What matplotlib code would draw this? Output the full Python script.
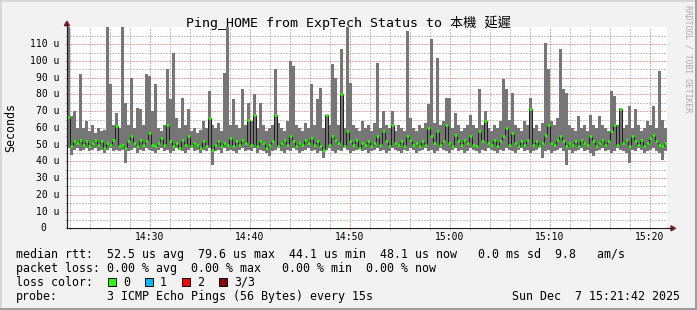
import numpy as np
import matplotlib
matplotlib.use("Agg")
import matplotlib.pyplot as plt
from matplotlib.transforms import blended_transform_factory
from matplotlib.patches import Rectangle, Polygon
from matplotlib.lines import Line2D

W, H = 697, 310
MONO = "DejaVu Sans Mono"

title = "Ping_HOME from ExpTech Status to 本機 延遲"

# time in minutes after 14:00, first column at 14:21:42, 18 s per column
t_start = 21.7
t_step = 0.3

# smoke top (max of 3 pings), in microseconds
hi = [121, 67, 70, 60, 92, 60, 64, 58, 62, 57,
      60, 58, 59, 121, 86, 62, 69, 60, 121, 75,
      62, 90, 60, 72, 71, 62, 92, 91, 70, 86,
      60, 58, 62, 95, 77, 105, 66, 60, 78, 62,
      71, 58, 60, 57, 59, 64, 60, 82, 62, 60,
      63, 58, 93, 121, 62, 77, 62, 60, 83, 62,
      75, 64, 80, 60, 75, 62, 58, 60, 62, 95,
      63, 60, 58, 64, 100, 97, 62, 60, 58, 63,
      60, 86, 62, 77, 84, 60, 68, 62, 98, 90,
      62, 107, 60, 121, 87, 62, 60, 58, 64, 60,
      62, 58, 63, 99, 60, 70, 62, 60, 70, 58,
      62, 60, 58, 118, 66, 60, 58, 62, 60, 63,
      74, 113, 63, 102, 62, 64, 78, 78, 60, 69,
      62, 58, 60, 62, 68, 62, 60, 83, 62, 70,
      60, 58, 62, 60, 64, 89, 83, 65, 81, 62,
      60, 58, 64, 62, 78, 60, 62, 58, 63, 111,
      95, 64, 62, 66, 107, 83, 81, 62, 60, 58,
      67, 60, 62, 58, 68, 62, 60, 67, 62, 60,
      58, 82, 79, 62, 72, 60, 62, 73, 60, 71,
      62, 58, 60, 64, 62, 73, 60, 94, 65, 60]

# smoke bottom (min of 3 pings)
lo = [48, 44, 47, 48, 46, 47, 48, 46, 47, 48,
      46, 47, 45, 47, 48, 46, 47, 46, 47, 39,
      46, 47, 48, 45, 47, 46, 48, 47, 46, 45,
      47, 48, 46, 47, 45, 46, 48, 47, 46, 45,
      47, 48, 46, 47, 45, 47, 46, 48, 38, 46,
      47, 45, 48, 46, 47, 46, 45, 47, 48, 46,
      47, 46, 48, 45, 47, 46, 45, 43, 46, 47,
      48, 46, 45, 47, 46, 48, 47, 45, 46, 47,
      48, 46, 47, 45, 46, 42, 47, 48, 46, 45,
      47, 46, 48, 47, 45, 46, 47, 48, 46, 47,
      45, 46, 47, 48, 46, 47, 45, 46, 48, 47,
      46, 45, 47, 46, 48, 47, 45, 46, 47, 48,
      46, 47, 45, 46, 48, 47, 46, 45, 47, 48,
      46, 47, 45, 46, 48, 47, 46, 45, 47, 46,
      48, 47, 46, 45, 47, 46, 48, 47, 46, 45,
      47, 48, 46, 47, 45, 46, 47, 48, 42, 46,
      47, 45, 46, 47, 48, 46, 38, 47, 45, 46,
      47, 48, 46, 47, 45, 43, 46, 47, 48, 46,
      47, 45, 46, 48, 47, 46, 45, 39, 47, 46,
      48, 47, 45, 46, 47, 48, 46, 45, 41, 46]

# median rtt
med = [66.5, 49, 52, 51, 53, 50, 52, 49, 51, 53,
       50, 52, 48, 51, 50, 53, 61, 49, 50, 48,
       52, 55, 51, 49, 53, 50, 52, 57, 50, 49,
       51, 54, 50, 62, 52, 49, 51, 48, 53, 50,
       55, 49, 51, 50, 48, 52, 49, 66, 47, 50,
       52, 49, 51, 50, 54, 49, 52, 50, 53, 51,
       65, 50, 68, 49, 52, 51, 48, 50, 52, 68,
       49, 51, 53, 50, 55, 52, 49, 51, 50, 53,
       51, 54, 50, 52, 49, 47, 68, 50, 55, 53,
       51, 80, 49, 58, 52, 50, 53, 48, 51, 50,
       52, 49, 51, 55, 50, 58, 52, 49, 62, 51,
       50, 52, 49, 55, 53, 50, 51, 49, 52, 50,
       60, 55, 51, 58, 50, 52, 62, 51, 49, 56,
       52, 50, 53, 51, 55, 50, 49, 58, 52, 64,
       51, 50, 53, 49, 52, 55, 60, 50, 57, 51,
       49, 52, 50, 53, 71, 50, 52, 49, 51, 56,
       62, 51, 50, 53, 55, 52, 49, 51, 50, 52,
       49, 53, 51, 50, 55, 52, 49, 51, 53, 50,
       52, 58, 62, 50, 71, 51, 53, 49, 55, 52,
       50, 53, 49, 51, 54, 56, 52, 50, 49, 51]

y_ticks = [0, 10, 20, 30, 40, 50, 60, 70, 80, 90, 100, 110]
y_labels = ["0", "10 u", "20 u", "30 u", "40 u", "50 u", "60 u",
            "70 u", "80 u", "90 u", "100 u", "110 u"]
x_ticks = [30, 40, 50, 60, 70, 80]
x_labels = ["14:30", "14:40", "14:50", "15:00", "15:10", "15:20"]

legend_lines = [
    "median rtt:  52.5 us avg  79.6 us max  44.1 us min  48.1 us now   0.0 ms sd  9.8   am/s",
    "packet loss: 0.00 % avg  0.00 % max   0.00 % min  0.00 % now",
]
loss_labels = ["0", "1", "2", "3/3"]
loss_colors = ["#26ff00", "#00b8ff", "#ff0000", "#8b0000"]
probe_text = "3 ICMP Echo Pings (56 Bytes) every 15s"
date_text = "Sun Dec  7 15:21:42 2025"

grid_c = (0.56, 0.56, 0.56, 0.6)
mgrid_c = (0.87, 0.31, 0.31, 0.55)
arrow_c = "#801f1f"
axis_c = "#1f1f1f"


def fx(x):
    return x / W


def fy(y):
    return 1 - y / H


fig = plt.figure(figsize=(W / 100, H / 100), dpi=100, facecolor="#f2f2f2")
ax = fig.add_axes([fx(67), fy(228.3), 600 / W, 201.3 / H])
ax.set_facecolor("white")

n = len(med)
t = t_start + t_step * np.arange(n + 1)
ax.fill_between(t, lo + [lo[-1]], hi + [hi[-1]], step="post",
                color="#767676", lw=0, zorder=1)
ax.step(t, med + [med[-1]], where="post", color="#202020", lw=0.75, zorder=3)
ax.hlines(med, t[:-1], t[1:], colors=loss_colors[0], lw=1.8, zorder=4)

ax.set_xlim(t[0], t[-1])
ax.set_ylim(0, 120.3)

ax.set_xticks(x_ticks)
ax.set_xticks(np.arange(22, 82, 2), minor=True)
ax.set_yticks(y_ticks)
ax.set_yticks(np.arange(5, 120, 5), minor=True)
ax.set_xticklabels([])
ax.set_yticklabels([])
ax.set_axisbelow(True)
ax.grid(which="major", color=mgrid_c, lw=0.72, linestyle=(0, (1, 2)), snap=True)
ax.grid(which="minor", color=grid_c, lw=0.72, linestyle=(0, (1, 2)), snap=True)
ax.tick_params(which="major", length=1.5, width=0.72, color=mgrid_c)
ax.tick_params(which="minor", length=1.5, width=0.72, color=grid_c)

for s in ["top", "right"]:
    ax.spines[s].set_visible(False)
for s in ["left", "bottom"]:
    ax.spines[s].set_color(axis_c)
    ax.spines[s].set_linewidth(0.8)
    ax.spines[s].set_zorder(5)

# tick labels
bx = blended_transform_factory(ax.transData, ax.transAxes)
for v, lab in zip(x_ticks, x_labels):
    ax.text(v, -0.0417, lab, transform=bx, ha="center", va="center",
            fontsize=7, family=MONO)
by = blended_transform_factory(ax.transAxes, ax.transData)
for v, lab in zip(y_ticks, y_labels):
    xr = -0.0338 if v == 0 else -0.0128
    ax.text(xr, v, lab, transform=by, ha="right", va="center",
            fontsize=7, family=MONO)

# axis extensions and arrows
fig.add_artist(Line2D([fx(67), fx(67)], [fy(228.3), fy(24)], color=axis_c, lw=0.8))
fig.add_artist(Line2D([fx(667), fx(672)], [fy(228.3), fy(228.3)], color=axis_c, lw=0.8))
fig.add_artist(Polygon([(fx(64.3), fy(25.7)), (fx(69.5), fy(25.7)), (fx(66.9), fy(21.3))],
                       closed=True, color=arrow_c, transform=fig.transFigure))
fig.add_artist(Polygon([(fx(671), fy(225.8)), (fx(671), fy(230.8)), (fx(675.5), fy(228.3))],
                       closed=True, color=arrow_c, transform=fig.transFigure))

# texts
fig.text(0.5, fy(22.7), title, ha="center", va="center", fontsize=9.5,
         family=[MONO, "Noto Sans CJK TC"])
fig.text(fx(11), fy(127), "Seconds", rotation=90, ha="center", va="center",
         fontsize=8.4, family=MONO)
fig.text(fx(688), fy(59), "RRDTOOL / TOBI OETIKER", rotation=270, ha="center",
         va="center", fontsize=5.9, family=MONO, color="#ababab")

fig.text(fx(16), fy(254.3), legend_lines[0], ha="left", va="center", fontsize=8.4, family=MONO)
fig.text(fx(16), fy(268.3), legend_lines[1], ha="left", va="center", fontsize=8.4, family=MONO)
fig.text(fx(16), fy(282.3), "loss color:", ha="left", va="center", fontsize=8.4, family=MONO)
for k, (lab, col) in enumerate(zip(loss_labels, loss_colors)):
    x0 = 108 + 37 * k
    fig.add_artist(Rectangle((fx(x0), fy(286.3)), 8 / W, 8 / H, facecolor=col,
                             edgecolor="black", lw=0.7, transform=fig.transFigure))
    fig.text(fx(x0 + 15), fy(282.3), lab, ha="left", va="center", fontsize=8.4, family=MONO)
fig.text(fx(16), fy(296.3), "probe:", ha="left", va="center", fontsize=8.4, family=MONO)
fig.text(fx(107), fy(296.3), probe_text, ha="left", va="center", fontsize=8.4, family=MONO)
fig.text(fx(680), fy(296.3), date_text, ha="right", va="center", fontsize=8.4, family=MONO)

# 3d frame
fig.add_artist(Line2D([0, 1], [fy(0.75), fy(0.75)], color="#cfcfcf", lw=1.1))
fig.add_artist(Line2D([fx(0.75), fx(0.75)], [0, 1], color="#cfcfcf", lw=1.1))
fig.add_artist(Line2D([0, 1], [fy(H - 1), fy(H - 1)], color="#9e9e9e", lw=1.5))
fig.add_artist(Line2D([fx(W - 1), fx(W - 1)], [0, 1], color="#9e9e9e", lw=1.5))

fig.savefig("out.png", dpi=100, facecolor=fig.get_facecolor())
